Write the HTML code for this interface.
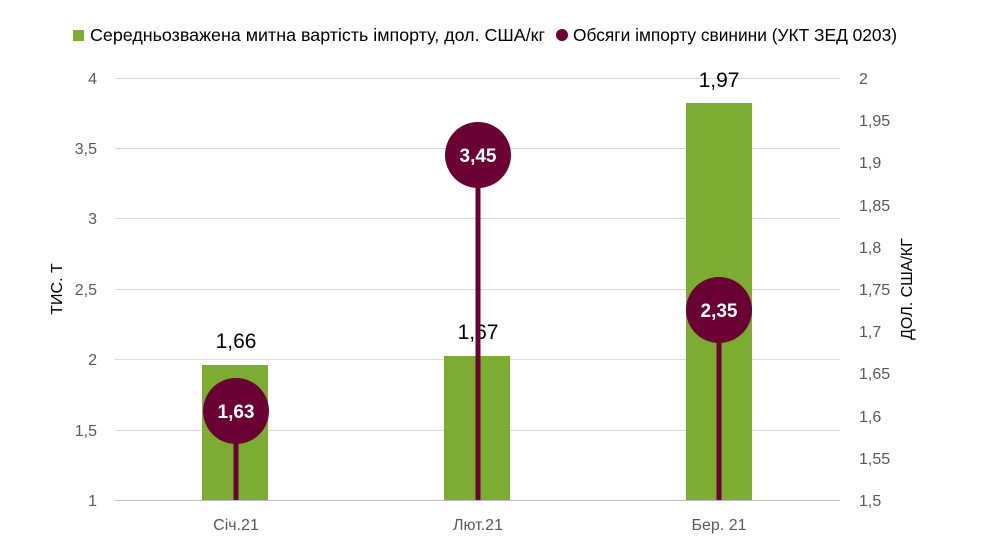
<!DOCTYPE html>
<html><head><meta charset="utf-8"><style>
body{margin:0;background:#fff}
svg{display:block;font-family:"Liberation Sans",sans-serif}
</style></head><body>
<svg width="989" height="542" viewBox="0 0 989 542" xmlns="http://www.w3.org/2000/svg">
<rect width="989" height="542" fill="#fff"/>
<g stroke="#d9d9d9" stroke-width="1">
<line x1="115" y1="78.5" x2="840" y2="78.5"/>
<line x1="115" y1="148.5" x2="840" y2="148.5"/>
<line x1="115" y1="218.5" x2="840" y2="218.5"/>
<line x1="115" y1="289.5" x2="840" y2="289.5"/>
<line x1="115" y1="359.5" x2="840" y2="359.5"/>
<line x1="115" y1="430.5" x2="840" y2="430.5"/>
<line x1="115" y1="500.5" x2="840" y2="500.5" stroke="#bfbfbf"/>
</g>
<g fill="#7cac32">
<rect x="202" y="365" width="66" height="135"/>
<rect x="444" y="356" width="66" height="144"/>
<rect x="686" y="103" width="66" height="397"/>
</g>
<g font-size="16" fill="#595959" text-anchor="end">
<text x="97" y="84">4</text><text x="97" y="154">3,5</text><text x="97" y="224">3</text>
<text x="97" y="295">2,5</text><text x="97" y="365">2</text><text x="97" y="436">1,5</text><text x="97" y="506">1</text>
</g>
<g font-size="16" fill="#595959" text-anchor="start">
<text x="859" y="84">2</text><text x="859" y="126">1,95</text><text x="859" y="168">1,9</text>
<text x="859" y="211">1,85</text><text x="859" y="253">1,8</text><text x="859" y="295">1,75</text>
<text x="859" y="337">1,7</text><text x="859" y="379">1,65</text><text x="859" y="422">1,6</text>
<text x="859" y="464">1,55</text><text x="859" y="506">1,5</text>
</g>
<g font-size="16" fill="#595959" text-anchor="middle">
<text x="236" y="530">Січ.21</text><text x="478" y="530">Лют.21</text><text x="719" y="530">Бер. 21</text>
</g>
<g font-size="21" fill="#000" text-anchor="middle">
<text x="236" y="348">1,66</text><text x="478" y="339">1,67</text><text x="719" y="87">1,97</text>
</g>
<g fill="#6b0034">
<rect x="233.5" y="411" width="5" height="89"/>
<rect x="475.5" y="155" width="5" height="345"/>
<rect x="716.5" y="310" width="5" height="190"/>
<circle cx="236" cy="411" r="33"/>
<circle cx="478" cy="155" r="33"/>
<circle cx="719" cy="310" r="33"/>
</g>
<g font-size="19" font-weight="bold" fill="#fff" text-anchor="middle">
<text x="236" y="418">1,63</text><text x="478" y="162">3,45</text><text x="719" y="317">2,35</text>
</g>
<text transform="translate(62,289) rotate(-90)" font-size="16" fill="#000" text-anchor="middle">ТИС. Т</text>
<text transform="translate(912,289) rotate(-90)" font-size="16" fill="#000" text-anchor="middle">ДОЛ. США/КГ</text>
<rect x="73" y="30" width="11" height="11" fill="#7cac32"/>
<text x="90" y="41" font-size="17.5" fill="#000" textLength="455" lengthAdjust="spacingAndGlyphs">Середньозважена митна вартість імпорту, дол. США/кг</text>
<circle cx="562" cy="35" r="6" fill="#6b0034"/>
<text x="573" y="41" font-size="17.3" fill="#000" textLength="324" lengthAdjust="spacingAndGlyphs">Обсяги імпорту свинини (УКТ ЗЕД 0203)</text>
</svg>
</body></html>
